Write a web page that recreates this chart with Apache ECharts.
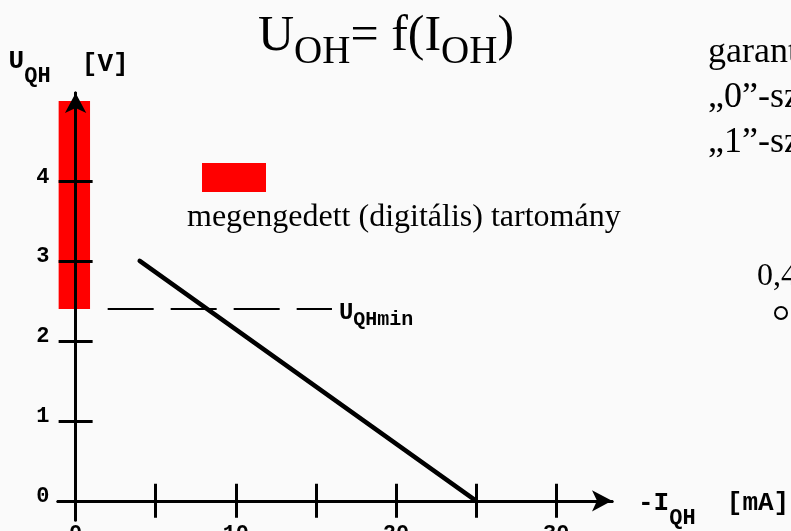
<!DOCTYPE html>
<html>
<head>
<meta charset="utf-8">
<title>U_OH = f(I_OH)</title>
<script src="https://cdn.jsdelivr.net/npm/echarts@6/dist/echarts.min.js"></script>
<style>
  html, body { margin: 0; padding: 0; background: #fafafa; }
  #chart { width: 791px; height: 531px; }
</style>
</head>
<body>
<div id="chart"></div>
<script>
// Output characteristic of a logic gate: U_OH as a function of the output current.
const currentTicks = [0, 5, 10, 15, 20, 25, 30];      // -I_QH [mA]
const currentLabels = [0, 10, 20, 30];
const voltageTicks = [0, 1, 2, 3, 4];                 // U_QH [V]
const voltageLabels = [0, 1, 2, 3, 4];
const characteristic = [[4, 3], [25, 0]];             // [mA, V]
const uMinLevel = 2.4;                                // U_QHmin [V]
const uMinCurrents = [2, 16];                         // extent of the U_QHmin reference line [mA]
const allowedVoltage = [2.4, 5];                      // allowed (digital) output range [V]
const bandName = 'megengedett (digitális) tartomány';

const black = '#000';
const mono = 'Liberation Mono';
const serif = 'Liberation Serif';

const tickStyle = { color: black, width: 3 };
const lineStyleAxis = { color: black, width: 3 };

function xAxisDef(inside) {
  return {
    type: 'value', min: -1.1, max: 33.48, position: 'bottom', z: 5,
    splitLine: { show: false },
    axisLine: inside
      ? { onZero: true, lineStyle: lineStyleAxis }
      : { onZero: true, symbol: ['none', 'arrow'], symbolSize: [16, 20], lineStyle: lineStyleAxis },
    axisTick: { show: true, inside: inside, length: 17, customValues: currentTicks, lineStyle: tickStyle },
    axisLabel: inside ? { show: false } : {
      show: true, customValues: currentLabels, margin: 3,
      color: black, fontFamily: mono, fontWeight: 'bold', fontSize: 22
    },
    name: inside ? '' : '{u|-}{u|I}{s|QH}{u|  }{u|[mA]}',
    nameLocation: 'end',
    nameGap: 26,
    nameTextStyle: {
      rich: {
        u: { fontFamily: mono, fontWeight: 'bold', fontSize: 26, lineHeight: 22, color: black, padding: [6, 0, 0, 0], verticalAlign: 'middle' },
        s: { fontFamily: mono, fontWeight: 'bold', fontSize: 22, lineHeight: 22, color: black, padding: [36, 0, 0, 0], verticalAlign: 'middle' }
      }
    }
  };
}

function yAxisDef(inside) {
  return {
    type: 'value', min: -0.24, max: 5.1, position: 'left', z: 5,
    splitLine: { show: false },
    axisLine: inside
      ? { onZero: true, lineStyle: lineStyleAxis }
      : { onZero: true, symbol: ['none', 'arrow'], symbolSize: [16, 20], lineStyle: lineStyleAxis },
    axisTick: { show: true, inside: inside, length: 17, customValues: voltageTicks, lineStyle: tickStyle },
    axisLabel: inside ? { show: false } : {
      show: true, customValues: voltageLabels, margin: 8.6,
      verticalAlign: 'bottom', lineHeight: 8,
      color: black, fontFamily: mono, fontWeight: 'bold', fontSize: 22
    },
    name: inside ? '' : '{u|U}{s|QH}{u|  }{b|[V]}',
    nameLocation: 'end',
    nameGap: 19,
    nameTextStyle: {
      padding: [0, 14, 0, 0],
      rich: {
        u: { fontFamily: mono, fontWeight: 'bold', fontSize: 26, lineHeight: 26, color: black, verticalAlign: 'middle' },
        s: { fontFamily: mono, fontWeight: 'bold', fontSize: 22, lineHeight: 22, color: black, padding: [31, 0, 0, 0], verticalAlign: 'middle' },
        b: { fontFamily: mono, fontWeight: 'bold', fontSize: 26, lineHeight: 26, color: black, padding: [7, 0, 0, 0], verticalAlign: 'middle' }
      }
    }
  };
}

const chart = echarts.init(document.getElementById('chart'), null, { renderer: 'canvas' });

chart.setOption({
  backgroundColor: '#fafafa',
  animation: false,
  title: {
    left: 258, top: 12, padding: 0,
    text: '{a|U}{b|OH}{a|= f(I}{b|OH}{a|)}',
    textStyle: {
      fontWeight: 'normal',
      rich: {
        a: { fontFamily: serif, fontWeight: 'normal', fontSize: 50, lineHeight: 50, color: black, verticalAlign: 'middle' },
        b: { fontFamily: serif, fontWeight: 'normal', fontSize: 39, lineHeight: 39, color: black, padding: [32, 0, 0, 0], verticalAlign: 'middle' }
      }
    }
  },
  legend: {
    left: 202, top: 163, padding: 0,
    itemWidth: 64, itemHeight: 29, icon: 'rect',
    selectedMode: false,
    data: [{ name: bandName, itemStyle: { color: '#ff0000' } }],
    formatter: function () { return ''; }
  },
  grid: { left: 58, right: 179, top: 93, bottom: 11, containLabel: false, outerBoundsMode: 'none' },
  xAxis: [xAxisDef(false), xAxisDef(true)],
  yAxis: [yAxisDef(false), yAxisDef(true)],
  series: [
    {
      name: bandName,
      type: 'line',
      data: [],
      color: '#ff0000',
      markArea: {
        silent: true,
        itemStyle: { color: '#ff0000', opacity: 1 },
        data: [[{ coord: [-1.06, allowedVoltage[0]] }, { coord: [0.9, allowedVoltage[1]] }]]
      }
    },
    {
      name: 'U_QHmin',
      type: 'line',
      data: uMinCurrents.map(function (i) { return [i, uMinLevel]; }),
      showSymbol: false,
      symbol: 'none',
      lineStyle: { color: black, width: 2, type: [46, 17] },
      endLabel: {
        show: true,
        distance: 7,
        formatter: '{u|U}{s|QHmin}',
        rich: {
          u: { fontFamily: mono, fontWeight: 'bold', fontSize: 24, lineHeight: 24, color: black, padding: [8, 0, 0, 0], verticalAlign: 'middle' },
          s: { fontFamily: mono, fontWeight: 'bold', fontSize: 20, lineHeight: 20, color: black, padding: [22, 0, 0, 0], verticalAlign: 'middle' }
        }
      }
    },
    {
      name: 'U_OH',
      type: 'line',
      data: characteristic,
      showSymbol: false,
      symbol: 'none',
      lineStyle: { color: black, width: 4.5, cap: 'round' }
    }
  ],
  graphic: [
    { type: 'text', x: 187, y: 218, style: { text: bandName, font: '32px "Liberation Serif"', fill: black, align: 'left', verticalAlign: 'middle' } },
    { type: 'text', x: 708, y: 53, style: { text: 'garantált értékek:', font: '36px "Liberation Serif"', fill: black, align: 'left', verticalAlign: 'middle' } },
    { type: 'text', x: 708, y: 98, style: { text: '„0”-szint:', font: '36px "Liberation Serif"', fill: black, align: 'left', verticalAlign: 'middle' } },
    { type: 'text', x: 708, y: 143, style: { text: '„1”-szint:', font: '36px "Liberation Serif"', fill: black, align: 'left', verticalAlign: 'middle' } },
    { type: 'text', x: 757, y: 277, style: { text: '0,4 V', font: '32px "Liberation Serif"', fill: black, align: 'left', verticalAlign: 'middle' } },
    { type: 'circle', shape: { cx: 781, cy: 313, r: 6 }, style: { fill: 'none', stroke: black, lineWidth: 2 } }
  ]
});
</script>
</body>
</html>
